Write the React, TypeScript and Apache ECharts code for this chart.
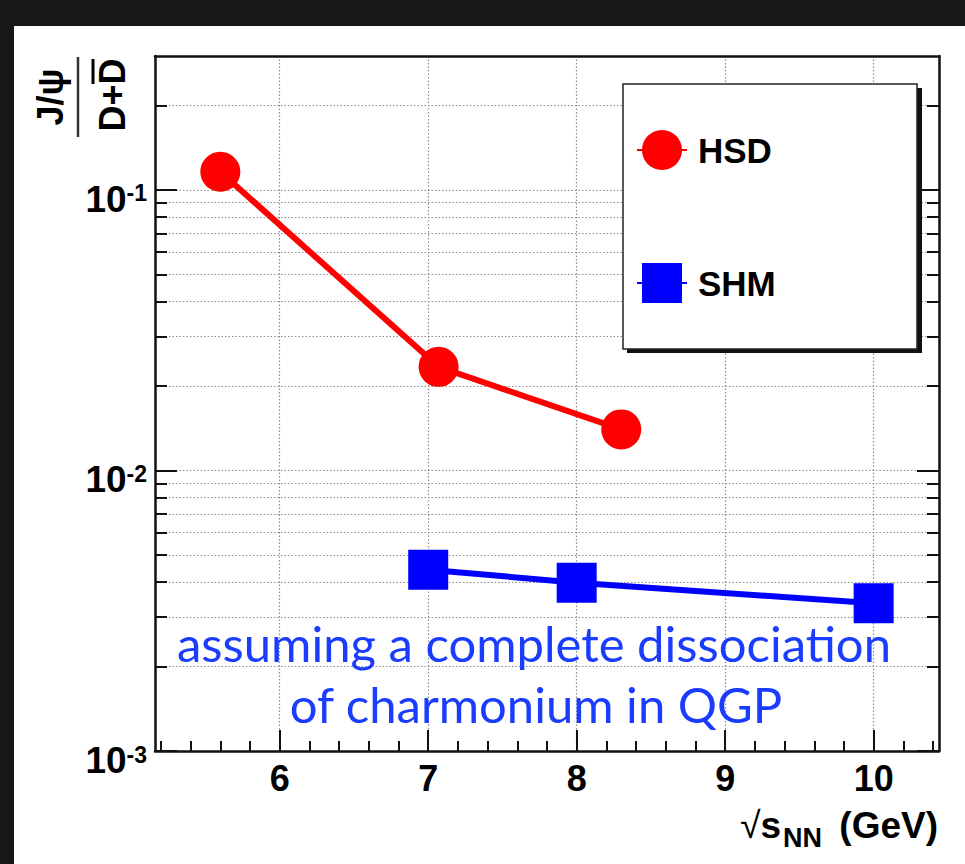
import React, { useEffect, useRef } from "react";
import * as echarts from "echarts";

// HSD transport model: J/psi over open charm ratio
const hsdEnergy = [5.6, 7.07, 8.3];
const hsdRatio = [0.116, 0.0234, 0.014];

// Statistical hadronization model
const shmEnergy = [7, 8, 10];
const shmRatio = [0.00443, 0.00398, 0.00336];

const xMajorTicks = [6, 7, 8, 9, 10];
const xMinorTicks = [5.2, 5.4, 5.6, 5.8, 6.2, 6.4, 6.6, 6.8, 7.2, 7.4, 7.6, 7.8, 8.2, 8.4, 8.6, 8.8, 9.2, 9.4, 9.6, 9.8, 10.2, 10.4];
const yDecades = [0.001, 0.01, 0.1];
const yAllTicks = [
  0.001, 0.002, 0.003, 0.004, 0.005, 0.006, 0.007, 0.008, 0.009,
  0.01, 0.02, 0.03, 0.04, 0.05, 0.06, 0.07, 0.08, 0.09,
  0.1, 0.2,
];

const X_MIN = 5.16;
const X_MAX = 10.44;
const Y_MIN = 0.001;
const Y_MAX = 0.3;

const SANS = "'Liberation Sans', Arial, Helvetica, sans-serif";
const NOTE_FONT = "Lato, 'Open Sans', sans-serif";
const NOTE_COLOR = "#1a3cff";

const gridDots = { color: "#8c8c8c", width: 1.2, type: [1.5, 2] as number[] };
const frameLine = { color: "#111", width: 2.5 };

function decadeLabel(value: number): string {
  const exp = Math.round(Math.log10(value));
  return `{b|10}{s|${exp}}`;
}

function label(text: string, x: number, y: number, fontSize: number, align: string, extra: object = {}) {
  return {
    type: "text",
    z: 15,
    x,
    y,
    style: {
      text,
      fontSize,
      fontWeight: "bold",
      fontFamily: SANS,
      fill: "#000",
      align,
      verticalAlign: "middle",
      textAlign: align,
      textVerticalAlign: "middle",
      ...extra,
    },
  };
}

export default function App() {
  const ref = useRef<HTMLDivElement>(null);

  useEffect(() => {
    if (!ref.current) return;
    const chart = echarts.init(ref.current, undefined, { renderer: "svg" });

    const xBase = {
      type: "value" as const,
      min: X_MIN,
      max: X_MAX,
      position: "bottom" as const,
      axisLine: { show: false, onZero: false },
      axisTick: { show: false },
      axisLabel: { show: false },
      splitLine: { show: false },
    };
    const yBase = {
      type: "log" as const,
      logBase: 10,
      min: Y_MIN,
      max: Y_MAX,
      position: "left" as const,
      axisLine: { show: false, onZero: false },
      axisTick: { show: false },
      axisLabel: { show: false },
      splitLine: { show: false },
    };

    chart.setOption({
      animation: false,
      backgroundColor: "transparent",
      grid: {
        left: 155,
        top: 56,
        width: 784,
        height: 695,
        containLabel: false,
        outerBoundsMode: "none",
      },
      xAxis: [
        {
          ...xBase,
          axisLine: { show: true, onZero: false, lineStyle: frameLine },
          axisTick: {
            show: true,
            inside: true,
            length: 21,
            customValues: xMajorTicks,
            lineStyle: { color: "#111", width: 2 },
          },
          axisLabel: {
            show: true,
            customValues: xMajorTicks,
            margin: 9,
            fontSize: 36,
            lineHeight: 36,
            fontWeight: "bold",
            fontFamily: SANS,
            color: "#000",
          },
          splitLine: { show: true, lineStyle: gridDots },
        },
        {
          ...xBase,
          axisTick: {
            show: true,
            inside: true,
            length: 10,
            customValues: xMinorTicks,
            lineStyle: { color: "#111", width: 2 },
          },
        },
        {
          ...xBase,
          position: "top",
          axisLine: { show: true, onZero: false, lineStyle: frameLine },
        },
      ],
      yAxis: [
        {
          ...yBase,
          axisLine: { show: true, onZero: false, lineStyle: frameLine },
          axisTick: {
            show: true,
            inside: true,
            length: 22,
            customValues: yDecades,
            lineStyle: { color: "#111", width: 2 },
          },
          axisLabel: {
            show: true,
            customValues: yDecades,
            margin: 8,
            padding: [20, 0, 0, 0],
            formatter: decadeLabel,
            rich: {
              b: {
                fontSize: 37,
                lineHeight: 36,
                fontWeight: "bold",
                fontFamily: SANS,
                color: "#000",
                verticalAlign: "bottom",
              },
              s: {
                fontSize: 23,
                lineHeight: 16,
                fontWeight: "bold",
                fontFamily: SANS,
                color: "#000",
                verticalAlign: "top",
              },
            },
          },
        },
        {
          ...yBase,
          axisTick: {
            show: true,
            inside: true,
            length: 12,
            customValues: yAllTicks,
            lineStyle: { color: "#111", width: 2 },
          },
          splitLine: { show: true, lineStyle: gridDots },
        },
        {
          ...yBase,
          position: "right",
          axisLine: { show: true, onZero: false, lineStyle: frameLine },
          axisTick: {
            show: true,
            inside: true,
            length: 12,
            customValues: yAllTicks,
            lineStyle: { color: "#111", width: 2 },
          },
        },
        {
          ...yBase,
          position: "right",
          axisTick: {
            show: true,
            inside: true,
            length: 22,
            customValues: yDecades,
            lineStyle: { color: "#111", width: 2 },
          },
        },
      ],
      legend: {
        orient: "vertical",
        left: 636,
        top: 130,
        padding: 0,
        itemWidth: 50,
        itemHeight: 50,
        itemGap: 93,
        z: 20,
        selectedMode: false,
        data: ["HSD", "SHM"],
        textStyle: {
          fontSize: 35,
          fontWeight: "bold",
          fontFamily: SANS,
          color: "#000",
          padding: [10, 0, 0, 6],
        },
      },
      series: [
        {
          name: "HSD",
          type: "line",
          xAxisIndex: 0,
          yAxisIndex: 0,
          data: hsdEnergy.map((e, i) => [e, hsdRatio[i]]),
          symbol: "circle",
          symbolSize: 40,
          lineStyle: { color: "#ff0000", width: 6 },
          itemStyle: { color: "#ff0000" },
          z: 3,
        },
        {
          name: "SHM",
          type: "line",
          xAxisIndex: 0,
          yAxisIndex: 0,
          data: shmEnergy.map((e, i) => [e, shmRatio[i]]),
          symbol: "rect",
          symbolSize: 40,
          lineStyle: { color: "#0000ff", width: 6 },
          itemStyle: { color: "#0000ff" },
          z: 3,
        },
      ],
      graphic: [
        // legend frame with drop shadow
        {
          type: "rect",
          z: 10,
          shape: { x: 627, y: 88, width: 295, height: 265 },
          style: { fill: "#111" },
        },
        {
          type: "rect",
          z: 11,
          shape: { x: 623, y: 84, width: 294, height: 265 },
          style: { fill: "#fff", stroke: "#222", lineWidth: 1.5 },
        },
        // annotation
        {
          type: "text",
          z: 15,
          x: 534,
          y: 643,
          style: {
            text: "assuming a complete dissociation",
            fontSize: 49,
            fontFamily: NOTE_FONT,
            fill: NOTE_COLOR,
            align: "center",
            verticalAlign: "middle",
            textAlign: "center",
            textVerticalAlign: "middle",
          },
        },
        {
          type: "text",
          z: 15,
          x: 536,
          y: 704,
          style: {
            text: "of charmonium in QGP",
            fontSize: 49,
            fontFamily: NOTE_FONT,
            fill: NOTE_COLOR,
            align: "center",
            verticalAlign: "middle",
            textAlign: "center",
            textVerticalAlign: "middle",
          },
        },
        // x-axis title: sqrt(s_NN) (GeV), subscript drawn a little lower
        label("{r|√}{a|s}", 781, 825, 37, "right", {
          rich: {
            r: { fontSize: 37, fontFamily: SANS, fill: "#000", color: "#000" },
            a: { fontSize: 37, fontWeight: "bold", fontFamily: SANS, fill: "#000", color: "#000" },
          },
        }),
        label("NN", 822, 838, 27, "right"),
        label("(GeV)", 938, 825, 37, "right"),
        // y-axis title: J/psi over D + Dbar, written as a rotated fraction
        {
          type: "group",
          x: 78,
          y: 95,
          rotation: Math.PI / 2,
          z: 15,
          children: [
            {
              type: "text",
              x: -2,
              y: -28,
              style: {
                text: "J/ψ",
                fontSize: 36,
                fontWeight: "bold",
                fontFamily: SANS,
                fill: "#000",
                align: "center",
                verticalAlign: "middle",
                textAlign: "center",
                textVerticalAlign: "middle",
              },
            },
            {
              type: "line",
              shape: { x1: -42, y1: 0, x2: 38, y2: 0 },
              style: { stroke: "#333", lineWidth: 2.5 },
            },
            {
              type: "text",
              x: 0,
              y: 34,
              style: {
                text: "D+D",
                fontSize: 36,
                fontWeight: "bold",
                fontFamily: SANS,
                fill: "#000",
                align: "center",
                verticalAlign: "middle",
                textAlign: "center",
                textVerticalAlign: "middle",
              },
            },
            {
              type: "line",
              shape: { x1: 11, y1: 15, x2: 36, y2: 15 },
              style: { stroke: "#000", lineWidth: 3 },
            },
          ],
        },
      ],
    });

    return () => chart.dispose();
  }, []);

  return (
    <div
      style={{
        position: "fixed",
        left: 0,
        top: 0,
        width: 965,
        height: 864,
        background: "#171717",
        overflow: "hidden",
      }}
    >
      <div
        style={{
          position: "absolute",
          left: 14,
          top: 26,
          right: 0,
          bottom: 0,
          background: "#fff",
        }}
      />
      <div
        ref={ref}
        style={{ position: "absolute", left: 0, top: 0, width: 965, height: 864 }}
      />
    </div>
  );
}
